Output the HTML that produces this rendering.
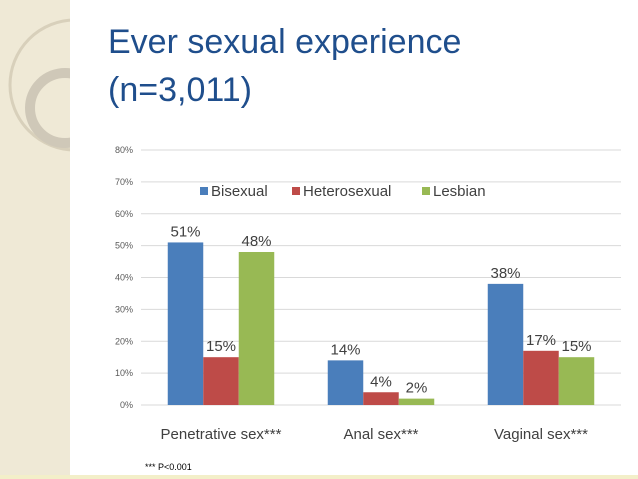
<!DOCTYPE html>
<html><head><meta charset="utf-8"><style>
body{margin:0;width:638px;height:479px;overflow:hidden;background:#fff;font-family:"Liberation Sans",sans-serif;position:relative}
</style></head><body>
<svg width="638" height="479" style="position:absolute;left:0;top:0">
<rect x="0" y="0" width="70" height="479" fill="#efe9d6"/>
<circle cx="75" cy="85" r="65" fill="none" stroke="#d8d0bb" stroke-width="3"/>
<circle cx="65" cy="108" r="35" fill="none" stroke="#cfc8b8" stroke-width="10"/>
<rect x="70" y="0" width="568" height="479" fill="#fff"/>
<text x="108" y="53" font-size="34" fill="#1f4e8c">Ever sexual experience</text>
<text x="108" y="101" font-size="34" fill="#1f4e8c">(n=3,011)</text>
<g id="chart"></g>
<text x="145" y="470" font-size="9" fill="#000">*** P&lt;0.001</text>
<rect x="0" y="475" width="638" height="4" fill="#f3efc9"/>
</svg>
<script>
const categories=["Penetrative sex***","Anal sex***","Vaginal sex***"];
const seriesNames=["Bisexual","Heterosexual","Lesbian"];
const bisexual=[51,14,38];
const heterosexual=[15,4,17];
const lesbian=[48,2,15];
const yTicks=[0,10,20,30,40,50,60,70,80];
const colors=["#4a7ebb","#be4b48","#98b954"];
const series=[bisexual,heterosexual,lesbian];
const ns="http://www.w3.org/2000/svg",g=document.getElementById('chart');
const x0=141,x1=621,y0=405,y80=150;
const y=v=>y0-(v/80)*(y0-y80);
const gw=(x1-x0)/categories.length,bw=35.5;
function mk(t,a,txt){const e=document.createElementNS(ns,t);for(const k in a)e.setAttribute(k,a[k]);if(txt!==undefined)e.textContent=txt;g.appendChild(e);return e;}
yTicks.forEach(t=>{const l=mk('line',{x1:x0,x2:x1,y1:y(t),y2:y(t),stroke:'#d9d9d9'});


const tx=mk('text',{x:133,y:y(t)+3,'font-size':9,fill:'#595959','text-anchor':'end'},t+'%');

});
categories.forEach((c,i)=>{const start=x0+i*gw+(gw-3*bw)/2;
series.forEach((s,j)=>{const bx=start+j*bw;
const r=mk('rect',{x:bx,y:y(s[i]),width:bw,height:y0-y(s[i]),fill:colors[j]});


const lab=mk('text',{x:bx+bw/2,y:y(s[i])-6,'font-size':15,fill:'#404040','text-anchor':'middle'},s[i]+'%');

});
const ct=mk('text',{x:x0+i*gw+gw/2,y:439,'font-size':15,fill:'#404040','text-anchor':'middle'},c);

});
const lx=[200,292,422];
seriesNames.forEach((n,j)=>{const s=mk('rect',{x:lx[j],y:187,width:8,height:8,fill:colors[j]});


const t=mk('text',{x:lx[j]+11,y:196,'font-size':15,fill:'#404040'},n);

});
</script>
</body></html>
